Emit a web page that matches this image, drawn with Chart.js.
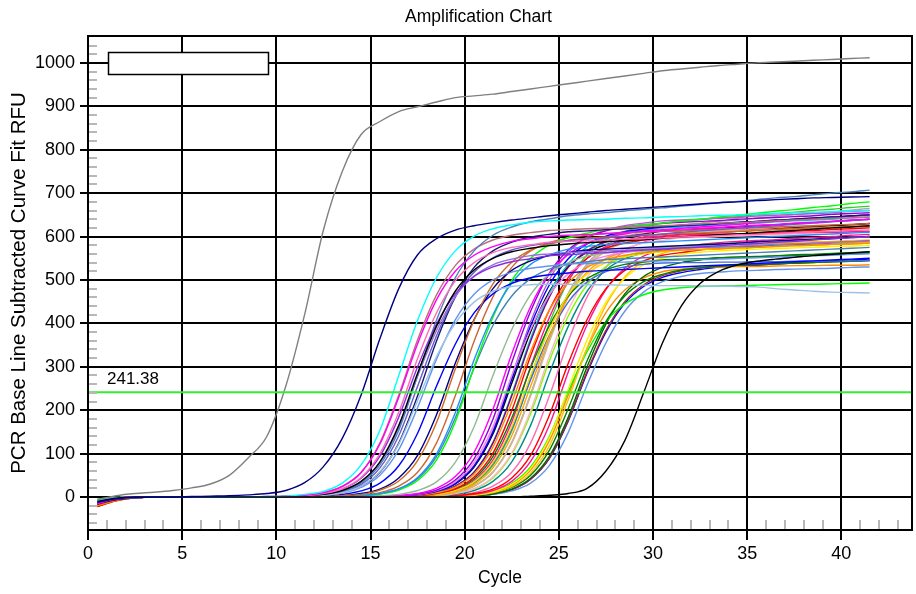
<!DOCTYPE html>
<html>
<head>
<meta charset="utf-8">
<script src="https://cdn.jsdelivr.net/npm/chart.js@4.4.0/dist/chart.umd.min.js"></script>
<style>
  html, body { margin: 0; padding: 0; background: #fff; }
</style>
</head>
<body>
<canvas id="amp" width="916" height="594"></canvas>
<script>
const cycles = [0.5,1.5,2.5,3.5,4.5,5.5,6.5,7.5,8.5,9.5,10.5,11.5,12.5,13.5,14.5,15.5,16.5,17.5,18.5,19.5,20.5,
  21.5,22.5,23.5,24.5,25.5,26.5,27.5,28.5,29.5,30.5,31.5,32.5,33.5,34.5,35.5,36.5,37.5,38.5,39.5,40.5,41.5];
const xTicks = [0, 5, 10, 15, 20, 25, 30, 35, 40];
const yTicks = [0, 100, 200, 300, 400, 500, 600, 700, 800, 900, 1000];
const thresholdRFU = 241.38;

// curve fit RFU per well, one value per cycle
const rfuGray = [-6,3,8,11,15,21,30,50,90,140,255,420,615,750,835,865,888,899,910,920,924,928,934,940,946,952,958,964,970,976,982,986,990,994,997,1000,1002,1004,1006,1008,1010,1012];
const rfuNavy = [-12,-4,-1,0,0,1,2,3,5,8,15,33,70,135,235,365,480,558,595,615,625,632,638,643,648,652,656,660,663,666,669,672,675,678,680,683,685,687,689,690,691,692];
const rfuLate = [-10,-3,0, 0,0,0,0,0, 0,0,0,0,0, 0,0,0,0,0, 0,0,0,0,0, 2,4,8,20,60,130,240,355,440,492,520,535,543,548,552,556,559,562,565];

const rfuA1 = [-8,-3,-1, 0,0,0,0,0, 0, 1,2,6,13,32,74,154,280,407,505,567,601,618,627,633,636,638,639,640,642,643,645,646,648,649,650,652,653,655,656,657,659,660];
const rfuA2 = [-15,-5,-1, 0,0,0,0,0, 0, 1,2,4,10,24,56,122,230,353,454,520,557,577,589,595,600,603,605,607,610,612,614,617,619,621,624,626,628,631,633,635,638,640];
const rfuA3 = [-10,-3,0, 0,0,0,0,0, 0, 0,1,3,8,19,45,100,195,319,424,498,540,563,575,581,587,589,590,592,594,595,597,599,600,602,604,605,607,609,610,612,614,615];
const rfuA4 = [-16,-6,-1, 0,0,0,0,0, 0, 0,1,3,6,15,36,81,165,285,393,474,523,550,565,573,579,583,586,588,591,593,596,599,601,604,606,609,612,614,617,620,622,625];
const rfuA5 = [-9,-3,0, 0,0,0,0,0, 0, 0,1,3,7,18,43,94,184,300,398,468,508,530,542,549,556,558,561,563,566,569,571,574,576,579,582,584,587,589,592,595,597,600];
const rfuA6 = [-7,-2,0, 0,0,0,0,0, 0, 0,1,2,4,10,25,58,122,222,323,400,449,474,485,489,490,490,489,489,488,488,487,487,486,486,485,484,480,477,474,472,471,470];
const rfuA7 = [-11,-4,-1, 0,0,0,0,0, 0, 0,1,2,6,13,32,74,154,280,407,505,567,603,622,634,641,648,652,655,659,663,666,670,674,678,681,685,689,692,696,700,703,707];
const rfuA8 = [-12,-4,-1, 0,0,0,0,0, 0, 1,2,4,10,25,57,125,235,362,465,533,571,592,603,609,614,616,618,619,621,623,625,627,629,631,632,634,636,638,640,642,643,645];
const rfuA9 = [-8,-2,0, 0,0,0,0,0, 0, 0,1,2,6,15,35,79,160,278,383,462,509,535,548,556,560,563,565,567,568,570,572,573,575,577,578,580,582,583,585,587,588,590];
const rfuA10 = [-10,-3,0, 0,0,0,0,0, 0, 0,1,2,4,9,22,50,109,206,317,408,467,500,518,527,532,537,538,540,541,543,544,546,547,548,550,551,553,554,556,557,559,560];
const rfuA11 = [-13,-5,-1, 0,0,0,0,0, 0, 0,1,2,5,12,29,67,141,255,371,461,518,551,569,579,585,591,594,597,600,603,606,610,613,616,619,622,625,628,631,634,637,640];
const rfuA12 = [-14,-5,-1, 0,0,0,0,0, 0, 0,1,2,4,10,25,57,124,233,359,461,529,567,587,599,605,611,613,616,618,621,623,626,628,630,633,635,638,640,643,645,648,650];

const rfuB1 = [-18,-7,-2, 0,0,0,0,0, 0,0,0,0, 1,3,6,16,37,84,171,295,407,491,541,569,583,591,596,599,601,603,605,607,608,610,612,614,616,618,619,621,623,625];
const rfuB2 = [-11,-4,-1, 0,0,0,0,0, 0,0,0,0, 1,3,8,18,44,96,189,308,409,480,522,544,556,563,569,571,573,575,577,579,581,583,585,588,590,592,594,596,598,600];
const rfuB3 = [-9,-3,0, 0,0,0,0,0, 0,0,0, 1,2,6,14,32,72,147,255,352,424,468,492,505,512,516,520,522,524,526,528,530,532,534,536,538,540,542,544,546,548,550];
const rfuB4 = [-12,-4,-1, 0,0,0,0,0, 0,0,0,0,0, 1,3,8,19,45,99,194,316,420,493,536,558,571,577,582,584,586,588,590,592,594,596,598,600,602,604,606,608,610];
const rfuB5 = [-6,-2,0, 0,0,0,0,0, 0,0,0,0,0, 1,3,7,16,38,85,173,300,414,499,550,581,598,608,616,622,627,631,636,640,645,649,654,658,662,667,671,676,680];
const rfuB6 = [-10,-3,0, 0,0,0,0,0, 0,0,0,0,0, 0, 1,3,6,15,35,80,162,280,386,466,514,540,555,562,568,572,574,576,579,581,583,586,588,591,593,595,598,600];
const rfuB7 = [-8,-2,0, 0,0,0,0,0, 0,0,0,0,0, 1,3,7,18,42,93,182,297,395,463,503,525,536,542,547,549,551,553,555,557,559,561,563,565,567,569,571,573,575];
const rfuB8 = [-15,-6,-1, 0,0,0,0,0, 0,0,0,0, 1,2,4,10,25,57,124,233,359,461,529,567,586,597,603,607,609,611,612,614,615,617,619,620,622,624,625,627,628,630];

const rfuC1 = [-14,-5,-1, 0,0,0,0,0, 0,0,0,0,0, 0,0, 1,3,8,20,47,103,202,330,439,515,559,584,598,606,613,616,619,622,625,628,632,635,638,641,644,647,650];
const rfuC2 = [-12,-4,-1, 0,0,0,0,0, 0,0,0,0,0, 0,0, 1,3,7,16,39,88,179,310,428,516,569,598,613,622,627,631,633,635,637,640,642,644,646,648,651,653,655];
const rfuC3 = [-9,-3,0, 0,0,0,0,0, 0,0,0,0,0, 0,0, 1,3,6,15,35,80,162,280,386,466,514,541,555,563,568,572,575,578,580,582,585,588,590,593,595,598,600];
const rfuC4 = [-16,-6,-1, 0,0,0,0,0, 0,0,0,0,0, 0,0, 1,2,5,13,31,71,149,271,394,489,549,583,601,611,617,622,625,627,630,632,635,637,640,642,645,647,650];
const rfuC5 = [-20,-8,-2, 0,0,0,0,0, 0,0,0,0,0, 0,0, 1,2,4,10,23,53,115,218,335,431,493,529,547,557,563,567,569,571,572,574,575,577,579,580,582,583,585];
const rfuC6 = [-11,-4,-1, 0,0,0,0,0, 0,0,0,0,0, 0,0, 1,2,4,10,25,57,124,233,359,461,529,567,588,599,606,612,614,617,620,622,625,627,630,632,635,637,640];
const rfuC7 = [-22,-9,-2, 0,0,0,0,0, 0,0,0,0,0, 0,0,0, 1,3,8,19,46,101,199,325,431,506,550,573,585,592,598,600,602,604,606,608,610,612,614,616,618,620];
const rfuC8 = [-8,-2,0, 0,0,0,0,0, 0,0,0,0,0, 0,0,0, 1,3,6,15,35,80,162,280,386,466,514,540,553,560,565,568,570,572,573,575,577,578,580,582,583,585];
const rfuC9 = [-13,-5,-1, 0,0,0,0,0, 0,0,0,0,0, 0,0,0, 1,3,7,18,42,93,182,297,395,463,503,524,536,541,546,548,549,551,553,554,556,558,559,561,563,565];
const rfuC10 = [-17,-7,-2, 0,0,0,0,0, 0,0,0,0,0, 0,0,0, 1,3,7,16,38,85,173,300,414,499,550,577,591,598,601,604,605,606,606,607,608,609,610,610,611,612];
const rfuC11 = [-10,-3,0, 0,0,0,0,0, 0,0,0,0,0, 0,0, 1,2,4,10,25,58,126,237,365,469,537,576,597,608,615,620,622,625,627,629,631,634,636,638,640,643,645];
const rfuC12 = [-19,-7,-2, 0,0,0,0,0, 0,0,0,0,0, 0,0,0, 1,2,5,12,29,67,141,255,371,461,518,549,564,572,576,579,580,581,582,583,583,584,585,586,587,588];
const rfuC13 = [-12,-4,-1, 0,0,0,0,0, 0,0,0,0,0, 0,0, 1,2,6,13,32,73,153,278,404,501,563,598,615,625,631,636,638,640,642,644,647,649,651,653,655,658,660];
const rfuC14 = [-9,-3,0, 0,0,0,0,0, 0,0,0,0,0, 0,0,0, 1,2,6,14,34,77,156,270,373,449,495,519,530,536,539,540,540,541,541,542,542,543,543,544,544,545];
const rfuC15 = [-14,-5,-1, 0,0,0,0,0, 0,0,0,0,0, 0,0,0, 1,2,4,10,25,57,124,233,359,461,529,567,586,597,603,608,610,611,613,615,616,618,620,622,623,625];
const rfuC16 = [-7,-2,0, 0,0,0,0,0, 0,0,0,0,0, 0,0,0, 1,2,5,13,32,73,152,275,401,497,558,593,612,623,630,636,639,643,646,650,653,656,660,663,667,670];
const rfuC17 = [-11,-4,-1, 0,0,0,0,0, 0,0,0,0,0, 0,0,0, 1,2,4,10,25,58,126,237,365,469,537,577,599,612,620,627,631,635,638,642,646,650,654,657,661,665];
const rfuC18 = [-15,-6,-1, 0,0,0,0,0, 0,0,0,0,0, 0,0, 1,2,5,12,30,69,145,262,381,473,531,564,581,591,597,602,605,607,610,612,615,617,620,622,625,627,630];
const rfuC19 = [-10,-3,0, 0,0,0,0,0, 0,0,0,0,0, 0,0,0,0, 1,3,8,19,46,101,199,325,431,506,550,572,585,591,597,598,600,601,603,604,606,607,609,610,612];
const rfuC20 = [-12,-4,-1, 0,0,0,0,0, 0,0,0,0,0, 0,0,0,0, 1,3,6,15,36,81,165,285,393,474,523,549,562,569,573,575,576,577,578,579,580,581,582,584,585];
const rfuC21 = [-6,-2,0, 0,0,0,0,0, 0,0,0,0,0, 0,0,0,0, 1,3,8,19,44,98,192,314,417,489,531,554,566,573,579,581,583,585,587,589,592,594,596,598,600];
const rfuC22 = [-9,-3,0, 0,0,0,0,0, 0,0,0,0,0, 0,0,0, 1,2,4,10,25,57,125,235,362,465,533,571,590,601,606,610,611,612,613,614,616,617,618,619,621,622];

const rfuD1 = [-21,-8,-2, 0,0,0,0,0, 0,0,0,0,0, 0,0,0,0,0, 1,3,8,18,44,96,189,308,409,480,522,544,557,563,569,572,574,576,579,581,583,585,588,590];
const rfuD2 = [-13,-5,-1, 0,0,0,0,0, 0,0,0,0,0, 0,0,0,0,0, 1,3,6,15,36,82,166,288,397,478,527,555,569,577,582,586,589,591,593,596,598,600,603,605];
const rfuD3 = [-8,-2,0, 0,0,0,0,0, 0,0,0,0,0, 0,0,0,0,0, 1,2,5,12,29,66,137,249,362,449,504,535,550,559,564,567,569,571,572,574,575,577,578,580];
const rfuD4 = [-11,-4,-1, 0,0,0,0,0, 0,0,0,0,0, 0,0,0,0,0, 1,2,4,10,24,55,118,224,344,442,507,543,561,571,577,581,583,584,585,587,588,589,591,592];
const rfuD5 = [-14,-5,-1, 0,0,0,0,0, 0,0,0,0,0, 0,0,0,0,0, 1,2,4,9,22,50,108,204,314,404,463,496,513,523,528,532,534,536,537,539,540,542,543,545];
const rfuD6 = [-5,-1,0, 0,0,0,0,0, 0,0,0,0,0, 0,0,0,0,0, 1,2,5,13,31,69,140,243,335,404,445,466,477,482,485,486,487,488,489,490,490,491,492,493];
const rfuD7 = [-16,-6,-1, 0,0,0,0,0, 0,0,0,0,0, 0,0,0,0,0, 0, 1,3,7,18,43,94,184,300,398,468,508,529,540,546,551,552,553,555,556,558,559,560,562];
const rfuD8 = [-10,-3,0, 0,0,0,0,0, 0,0,0,0,0, 0,0,0,0,0, 0, 1,2,6,14,32,73,149,258,355,428,472,496,508,515,518,521,522,524,525,526,527,529,530];
const rfuD9 = [-12,-4,-1, 0,0,0,0,0, 0,0,0,0,0, 0,0,0,0,0, 0, 1,3,7,17,41,90,177,289,384,450,489,510,521,527,532,534,535,537,539,540,542,543,545];
const rfuD10 = [-15,-6,-1, 0,0,0,0,0, 0,0,0,0,0, 0,0,0,0, 1,2,4,10,25,57,124,233,359,461,529,567,587,598,605,611,613,615,617,619,622,624,626,628,630];
const rfuD11 = [-18,-7,-2, 0,0,0,0,0, 0,0,0,0,0, 0,0,0,0,0, 1,2,5,11,27,62,130,235,342,425,477,505,519,525,529,530,531,531,532,533,533,534,534,535];
const rfuD12 = [-9,-3,0, 0,0,0,0,0, 0,0,0,0,0, 0,0,0,0,0, 0, 1,3,7,17,41,89,175,286,380,446,485,506,517,524,530,532,534,537,539,541,544,546,548];

const wells = [
  ['Gray', '#808080', rfuGray], ['Navy', '#000080', rfuNavy], ['Late', '#000000', rfuLate],
  ['A1', '#00ffff', rfuA1], ['A2', '#ff00ff', rfuA2], ['A3', '#ff69b4', rfuA3], ['A4', '#000000', rfuA4],
  ['A5', '#8a2be2', rfuA5], ['A6', '#9cc3e6', rfuA6], ['A7', '#4f81bd', rfuA7], ['A8', '#bc6f7a', rfuA8],
  ['A9', '#9370db', rfuA9], ['A10', '#6495ed', rfuA10], ['A11', '#6a5acd', rfuA11], ['A12', '#191970', rfuA12],
  ['B1', '#d2691e', rfuB1], ['B2', '#00008b', rfuB2], ['B3', '#0000ff', rfuB3], ['B4', '#1e90ff', rfuB4],
  ['B5', '#00ff00', rfuB5], ['B6', '#8fbc8f', rfuB6], ['B7', '#4682b4', rfuB7], ['B8', '#cc6633', rfuB8],
  ['C1', '#ff00ff', rfuC1], ['C2', '#9400d3', rfuC2], ['C3', '#ee82ee', rfuC3], ['C4', '#0000ff', rfuC4],
  ['C5', '#ff8c00', rfuC5], ['C6', '#800080', rfuC6], ['C7', '#ff0000', rfuC7], ['C8', '#ffd700', rfuC8],
  ['C9', '#008000', rfuC9], ['C10', '#ff1493', rfuC10], ['C11', '#00ced1', rfuC11], ['C12', '#ffa500', rfuC12],
  ['C13', '#ba55d3', rfuC13], ['C14', '#4169e1', rfuC14], ['C15', '#d2b48c', rfuC15], ['C16', '#32cd32', rfuC16],
  ['C17', '#a9a9a9', rfuC17], ['C18', '#000000', rfuC18], ['C19', '#ffb6c1', rfuC19], ['C20', '#008b8b', rfuC20],
  ['C21', '#7cfc00', rfuC21], ['C22', '#deb887', rfuC22],
  ['D1', '#ff0000', rfuD1], ['D2', '#ff1493', rfuD2], ['D3', '#ffee00', rfuD3], ['D4', '#ffc000', rfuD4],
  ['D5', '#008000', rfuD5], ['D6', '#00ff00', rfuD6], ['D7', '#006400', rfuD7], ['D8', '#6495ed', rfuD8],
  ['D9', '#a52a2a', rfuD9], ['D10', '#ff69b4', rfuD10], ['D11', '#ff8c00', rfuD11], ['D12', '#0000ff', rfuD12]
];

const font = "'Liberation Sans', Arial, sans-serif";

const datasets = wells.map(([name, color, vals]) => ({
  label: name,
  data: vals.map((v, i) => ({ x: cycles[i], y: v })),
  borderColor: color,
  borderWidth: 1.4,
  pointRadius: 0,
  fill: false,
  cubicInterpolationMode: 'monotone',
  order: 1
}));

datasets.push({
  label: 'Threshold',
  data: [{ x: 0, y: thresholdRFU }, { x: 43.75, y: thresholdRFU }],
  borderColor: '#33ee33',
  borderWidth: 2,
  pointRadius: 0,
  order: 0
});

// frame, minor ticks, empty legend box, threshold label and chart title
const decorations = {
  id: 'decorations',
  afterDatasetsDraw(chart) {
    const { ctx, chartArea: a, scales: { x, y } } = chart;
    ctx.save();
    ctx.strokeStyle = '#b8b8b8';
    ctx.lineWidth = 2;
    ctx.beginPath();
    for (let c = 1; c <= 43; c++) {
      if (c % 5 === 0) continue;
      const px = Math.round(x.getPixelForValue(c));
      ctx.moveTo(px, a.bottom);
      ctx.lineTo(px, a.bottom - 10);
    }
    for (let v = -60; v <= 1040; v += 20) {
      if (v % 100 === 0) continue;
      const py = Math.round(y.getPixelForValue(v));
      ctx.moveTo(a.left, py);
      ctx.lineTo(a.left + 9, py);
    }
    ctx.stroke();

    ctx.strokeStyle = '#000';
    ctx.lineWidth = 2;
    ctx.strokeRect(a.left, a.top, a.right - a.left, a.bottom - a.top);

    ctx.fillStyle = '#fff';
    ctx.fillRect(a.left + 20, a.top + 16, 161, 23);
    ctx.lineWidth = 1.5;
    ctx.strokeRect(a.left + 20.5, a.top + 16.5, 160, 22);

    ctx.fillStyle = '#000';
    ctx.font = '17px ' + font;
    ctx.textBaseline = 'middle';
    ctx.textAlign = 'left';
    ctx.fillText(thresholdRFU.toFixed(2), a.left + 19, y.getPixelForValue(thresholdRFU) - 13);

    ctx.font = '17.5px ' + font;
    ctx.textAlign = 'center';
    ctx.fillText('Amplification Chart', 478.5, 17);
    ctx.restore();
  }
};

new Chart(document.getElementById('amp'), {
  type: 'line',
  data: { datasets },
  options: {
    responsive: false,
    animation: false,
    layout: { padding: { left: 0, right: 4, top: 36, bottom: 0 } },
    plugins: {
      legend: { display: false },
      tooltip: { enabled: false },
      title: { display: false }
    },
    scales: {
      x: {
        type: 'linear',
        min: 0,
        max: 43.75,
        afterBuildTicks: s => { s.ticks = xTicks.map(v => ({ value: v })); },
        afterFit: s => { s.height = 64; },
        grid: { color: '#000', lineWidth: 2, tickLength: 10 },
        border: { display: false },
        ticks: { color: '#000', font: { family: font, size: 18 }, padding: 3, maxRotation: 0, callback: v => String(v) },
        title: { display: true, text: 'Cycle', color: '#000', font: { family: font, size: 17.5 }, padding: { top: 0, bottom: 5 } }
      },
      y: {
        type: 'linear',
        min: -76,
        max: 1062,
        afterBuildTicks: s => { s.ticks = yTicks.map(v => ({ value: v })); },
        afterFit: s => { s.width = 88; },
        grid: { color: '#000', lineWidth: 2, tickLength: 8 },
        border: { display: false },
        ticks: { color: '#000', font: { family: font, size: 18 }, padding: 5, callback: v => String(v) },
        title: { display: true, text: 'PCR Base Line Subtracted Curve Fit RFU', color: '#000', font: { family: font, size: 20.5 }, padding: { top: 7, bottom: 0 } }
      }
    }
  },
  plugins: [decorations]
});

const bad = wells.filter(w => w[2].length !== cycles.length).map(w => w[0] + ':' + w[2].length);
if (bad.length) throw new Error('length mismatch ' + bad.join(', '));
</script>
</body>
</html>
